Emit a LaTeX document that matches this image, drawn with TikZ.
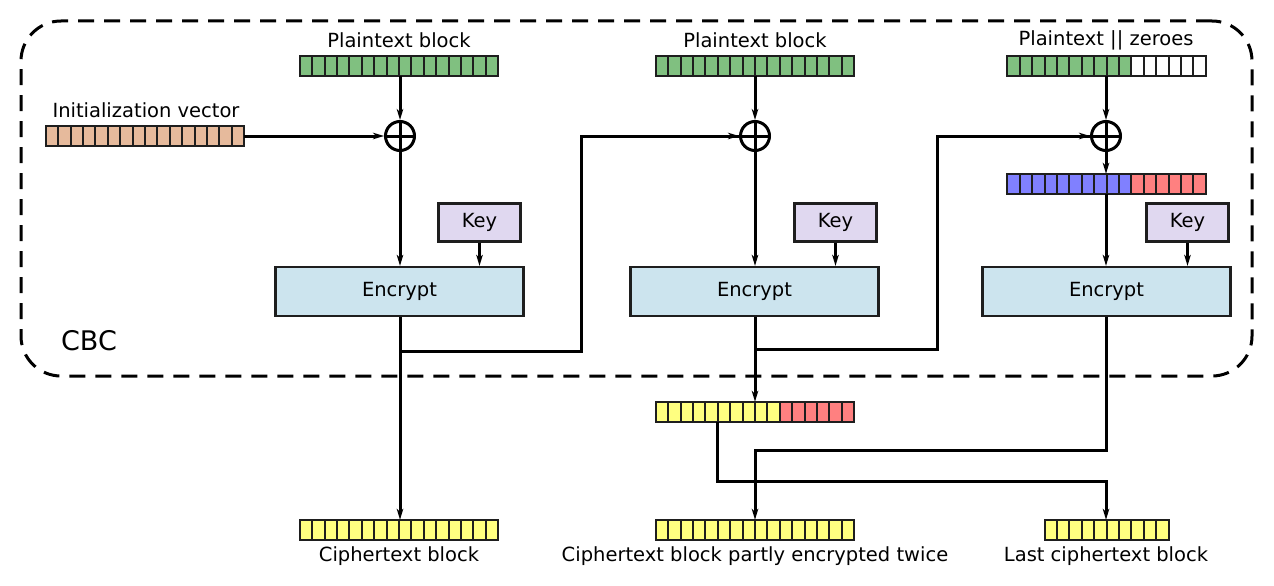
\documentclass[tikz,border=0pt]{standalone}
\usepackage{fontspec}
\setmainfont{DejaVu Sans}
\usetikzlibrary{arrows.meta,calc}
\definecolor{ptgreen}{RGB}{128,192,128}
\definecolor{ivpeach}{RGB}{230,186,156}
\definecolor{cyellow}{RGB}{255,255,128}
\definecolor{cred}{RGB}{255,128,128}
\definecolor{cblue}{RGB}{128,128,255}
\definecolor{encblue}{RGB}{204,228,238}
\definecolor{keylav}{RGB}{224,216,240}
\definecolor{celledge}{RGB}{30,30,30}
\tikzset{
  cell/.style={draw=celledge, line width=2pt},
  conn/.style={line width=3pt, line join=miter},
  arr/.style={conn, -{Stealth[length=11pt,width=6.5pt,inset=3pt]}},
  lbl/.style={inner sep=0, font=\fontsize{19.5}{22}\selectfont},
  encbox/.style={draw=celledge, line width=2.2pt, fill=encblue, minimum width=248pt, minimum height=49pt, inner sep=0, font=\fontsize{19.5}{22}\selectfont},
  keybox/.style={draw=celledge, line width=2.2pt, fill=keylav, minimum width=82pt, minimum height=38pt, inner sep=0, font=\fontsize{19.5}{22}\selectfont},
  xor/.style={circle, draw, line width=3pt, minimum size=29pt, inner sep=0,
    path picture={\draw[line width=3pt] (path picture bounding box.north) -- (path picture bounding box.south)
      (path picture bounding box.west) -- (path picture bounding box.east);}},
  frame/.style={draw, line width=3pt, dash pattern=on 16pt off 10pt, rounded corners=40pt, minimum width=1231pt, minimum height=355pt, inner sep=0},
}
\newcommand\mkblock[7]{% name, cx, cy, N, k, c1, c2
  \node[inner sep=0, minimum width={#4*12.4pt}, minimum height=20pt] (#1) at (#2,#3) {};
  \foreach \i in {1,...,#4}{%
    \ifnum\i>#5 \def\cc{#7}\else\def\cc{#6}\fi
    \filldraw[cell, fill=\cc] ({#2-#4*6.2+(\i-1)*12.4},{#3-10}) rectangle ++(12.4,20);
  }%
}
\begin{document}
\begin{tikzpicture}[x=1pt,y=-1pt]
\useasboundingbox (0,0) rectangle (1274,586);
\node[frame] (cbcbox) at (636.5,198.5) {};
\node[lbl, font=\fontsize{27}{30}\selectfont] (cbc) at (89,341) {CBC};

% column 1
\mkblock{p1}{399}{66}{16}{16}{ptgreen}{ptgreen}
\node[lbl] (lp1) at (399,40) {Plaintext block};
\mkblock{iv}{145}{136}{16}{16}{ivpeach}{ivpeach}
\node[lbl] (liv) at (146,110) {Initialization vector};
\node[xor] (x1) at (400,136) {};
\node[keybox] (key1) at (479.5,222.5) {Key};
\node[encbox] (enc1) at (399.5,291.5) {Encrypt};
\mkblock{c1}{399}{530}{16}{16}{cyellow}{cyellow}
\node[lbl] (lc1) at (399,556) {Ciphertext block};

% column 2
\mkblock{p2}{755}{66}{16}{16}{ptgreen}{ptgreen}
\node[lbl] (lp2) at (755,40) {Plaintext block};
\node[xor] (x2) at (755,136) {};
\node[keybox] (key2) at (835.5,222.5) {Key};
\node[encbox] (enc2) at (754.5,291.5) {Encrypt};
\mkblock{m2}{755}{412}{16}{10}{cyellow}{cred}
\mkblock{c2}{755}{530}{16}{16}{cyellow}{cyellow}
\node[lbl] (lc2) at (755,556) {Ciphertext block partly encrypted twice};

% column 3
\mkblock{p3}{1106.5}{66}{16}{10}{ptgreen}{white}
\node[lbl] (lp3) at (1106,40) {Plaintext || zeroes};
\node[xor] (x3) at (1106,136) {};
\mkblock{b3}{1106.5}{184}{16}{10}{cblue}{cred}
\node[keybox] (key3) at (1187.5,222.5) {Key};
\node[encbox] (enc3) at (1106.5,291.5) {Encrypt};
\mkblock{c3}{1106.5}{530}{10}{10}{cyellow}{cyellow}
\node[lbl] (lc3) at (1106,556) {Last ciphertext block};

% helper coordinates
\coordinate (b1) at (581,351);
\coordinate (b2) at (937,349);
\coordinate (m) at (717.8,481);
\coordinate (e3) at (755,450);

% connectors column 1
\draw[arr] (p1.south -| x1) -- (x1.north);
\draw[arr] (iv.east) -- (x1.west);
\draw[arr] (x1.south) -- (x1.south |- enc1.north);
\draw[arr] (key1.south) -- (key1.south |- enc1.north);
\draw[arr] (enc1.south -| x1) -- (x1 |- c1.north);
\draw[conn] (x1 |- b1) -- (b1) |- (x2.west);
\draw[arr] (b1 |- x2.west) -- (x2.west);

% connectors column 2
\draw[arr] (p2.south -| x2) -- (x2.north);
\draw[arr] (x2.south) -- (x2.south |- enc2.north);
\draw[arr] (key2.south) -- (key2.south |- enc2.north);
\draw[arr] (enc2.south -| x2) -- (x2 |- m2.north);
\draw[conn] (x2 |- b2) -- (b2) |- (x3.west);
\draw[arr] (b2 |- x3.west) -- (x3.west);

% connectors column 3
\draw[arr] (p3.south -| x3) -- (x3.north);
\draw[arr] (x3.south) -- (x3.south |- b3.north);
\draw[arr] (b3.south -| x3) -- (x3 |- enc3.north);
\draw[arr] (key3.south) -- (key3.south |- enc3.north);

% output crossings
\draw[arr] (m2.south -| m) -- (m) -| (x3 |- c3.north);
\draw[arr] (enc3.south -| x3) |- (e3) -- (e3 |- c2.north);
\end{tikzpicture}
\end{document}
